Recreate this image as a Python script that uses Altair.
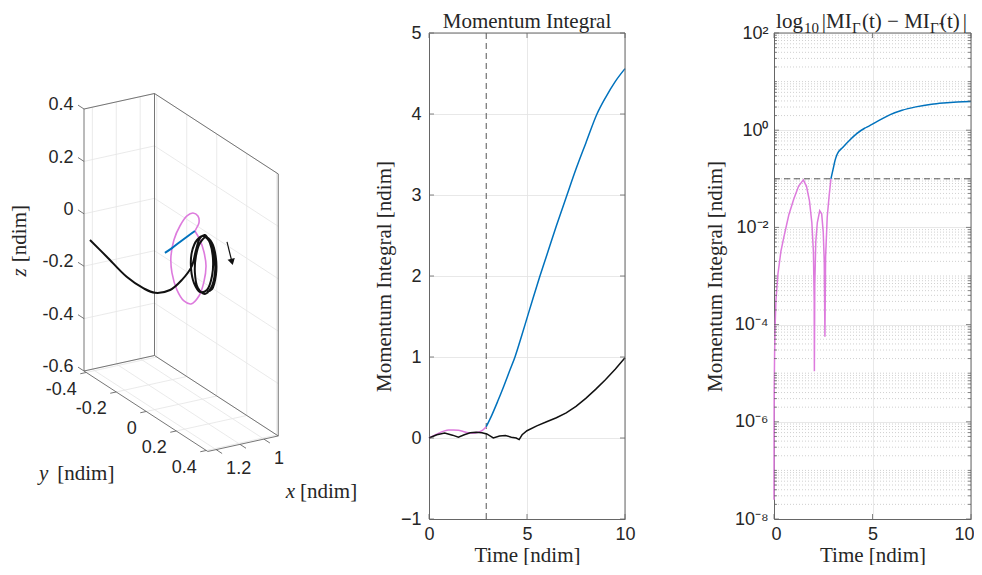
import altair as alt
import pandas as pd

# ============ values ============
# ---- middle panel: momentum integral vs time ----
MI_PINK_T = [0.0, 0.25, 0.5, 0.75, 1.0, 1.25, 1.5, 1.75, 2.0, 2.25, 2.5, 2.7, 2.92]
MI_PINK = [0.0, 0.03, 0.06, 0.085, 0.1, 0.1, 0.095, 0.08, 0.065, 0.06, 0.07, 0.09, 0.14]
MI_BLUE_T = [2.92, 3.2, 3.5, 3.8, 4.1, 4.4, 4.7, 5.0, 5.3, 5.66, 6.0, 6.5, 7.04, 7.5, 8.0,
             8.57, 9.0, 9.5, 10.0]
MI_BLUE = [0.14, 0.28, 0.45, 0.63, 0.82, 1.01, 1.24, 1.48, 1.72, 2.0, 2.25, 2.62, 3.0, 3.32,
           3.64, 4.0, 4.2, 4.4, 4.56]
MI_BLACK_T = [0.0, 0.4, 0.8, 1.2, 1.5, 1.8, 2.1, 2.4, 2.7, 2.95, 3.28, 3.6, 3.9, 4.2, 4.45,
              4.6, 4.75, 5.0, 5.5, 6.0, 6.5, 7.0, 7.5, 8.0, 8.5, 9.0, 9.5, 10.0]
MI_BLACK = [0.0, 0.04, 0.06, 0.035, 0.01, 0.04, 0.065, 0.07, 0.065, 0.05, 0.0, 0.025, 0.03,
            0.01, 0.0, -0.02, 0.04, 0.09, 0.15, 0.2, 0.25, 0.31, 0.39, 0.49, 0.6, 0.72,
            0.85, 0.99]
T_SWITCH = 2.92

# ---- right panel: |MI_G(t) - MI_G~(t)| ----
DIFF_PINK_T = [0.0, 0.005, 0.01, 0.03, 0.06, 0.1, 0.2, 0.35, 0.5, 0.75, 1.0, 1.25, 1.49,
               1.65, 1.8, 1.92, 2.0, 2.04, 2.05, 2.07, 2.12, 2.2, 2.32, 2.42, 2.5, 2.55,
               2.585, 2.62, 2.7, 2.8, 2.89]
DIFF_PINK = [2.5e-8, 1e-6, 4e-6, 2.5e-5, 1e-4, 3.2e-4, 1.1e-3, 3.2e-3, 6.3e-3, 1.8e-2,
             3.8e-2, 7.1e-2, 0.095, 0.07, 0.035, 0.0126, 3.2e-3, 3.2e-4, 1.1e-5, 6.3e-4,
             5e-3, 0.0126, 0.022, 0.019, 8e-3, 2e-3, 5.6e-5, 2.5e-3, 0.016, 0.045, 0.1]
DIFF_BLUE_T = [2.89, 3.0, 3.1, 3.2, 3.5, 3.85, 4.2, 4.6, 4.8, 5.2, 5.9, 6.5, 7.2, 8.0, 8.6,
               9.3, 10.0]
DIFF_BLUE = [0.1, 0.158, 0.24, 0.316, 0.447, 0.631, 0.851, 1.096, 1.2, 1.48, 2.09, 2.57,
             3.02, 3.43, 3.63, 3.8, 3.89]
DIFF_THRESHOLD = 0.1
LOG_MAJOR_EXP = [-8, -6, -4, -2, 0, 2]
LOG_DECADES = [-8, -7, -6, -5, -4, -3, -2, -1, 0, 1]
LOG_MULTS = [1, 2, 3, 4, 5, 6, 7, 8, 9]

# title of the right panel, set as pieces (main text and subscripts)
TITLE3_TEXT = ["log", "10", "|MI", "Γ", "(t) − MI", "Γ̃", "(t)", "|"]
TITLE3_SIZE = [21, 15, 21, 15, 21, 15, 21, 21]
TITLE3_CENTER = [15.5, 37.4, 62.8, 82.4, 121.9, 160.4, 175.9, 190.9]
TITLE3_BASE = [-5, 0, -5, 0, -5, 0, -5, -5]

# ---- left panel: 3-D trajectories [x, y, z] in ndim ----
X_LIM = [0.94, 1.235]
Y_LIM = [-0.415, 0.41]
Z_LIM = [-0.6, 0.4]
X_TICKS = [1.0, 1.1, 1.2]
X_TICK_LABELS = ["1", "", "1.2"]
Y_TICKS = [-0.4, -0.2, 0.0, 0.2, 0.4]
Y_TICK_LABELS = ["-0.4", "-0.2", "0", "0.2", "0.4"]
Z_TICKS = [-0.6, -0.4, -0.2, 0.0, 0.2, 0.4]
Z_TICK_LABELS = ["-0.6", "-0.4", "-0.2", "0", "0.2", "0.4"]

PINK3_X = 1.0
PINK3_Y = [-0.050, -0.016, 0.010, 0.024, 0.010, -0.023, -0.076, -0.123, -0.170, -0.203,
           -0.210, -0.190, -0.150, -0.103, -0.063, -0.030, -0.023, -0.043, -0.050]
PINK3_Z = [0.023, 0.001, -0.034, -0.083, -0.149, -0.215, -0.265, -0.271, -0.246, -0.194,
           -0.135, -0.063, 0.005, 0.061, 0.087, 0.088, 0.064, 0.033, 0.023]
BLUE3_X = 1.0
BLUE3_Y = [-0.050, -0.096, -0.150, -0.203, -0.250]
BLUE3_Z = [0.023, -0.013, -0.056, -0.099, -0.135]
BLACK3_X = [1.22, 1.19, 1.15, 1.11, 1.08, 1.05, 1.02, 1.0, 1.0, 1.0, 1.0, 1.0, 1.0, 1.0,
            1.0, 1.0, 1.0, 1.0, 1.0, 1.0, 1.0, 1.0, 1.0, 1.0, 1.0, 1.0, 1.0, 1.0, 1.0, 1.0,
            1.0, 1.0, 1.0, 1.0, 1.0, 1.0]
BLACK3_Y = [-0.399, -0.335, -0.266, -0.219, -0.188, -0.136, -0.106, -0.072,
            -0.043, -0.016, 0.017, 0.050, 0.070, 0.064, 0.030, -0.016, -0.056, -0.076,
            -0.070, -0.036, 0.004, 0.044, 0.077, 0.084, 0.057, 0.017, -0.030, -0.050,
            -0.043, -0.016, 0.024, 0.064, 0.090, 0.090, 0.064, 0.030]
BLACK3_Z = [-0.097, -0.143, -0.202, -0.236, -0.248, -0.224, -0.181, -0.121,
            -0.047, 0.009, 0.033, 0.015, -0.035, -0.106, -0.172, -0.197, -0.178, -0.128,
            -0.064, -0.006, 0.024, 0.020, -0.021, -0.084, -0.155, -0.192, -0.187, -0.137,
            -0.070, -0.010, 0.028, 0.020, -0.028, -0.093, -0.156, -0.180]
ARROW3 = {"x": [1.0, 1.0], "y": [0.164, 0.197], "z": [0.061, -0.003]}

# ============ styling / layout ============
SANS = "Liberation Sans"
SERIF = "Liberation Serif"
TXT = "#262626"
FRAME = "#666666"
GRID = "#e2e2e2"
GRID3 = "#e4e4e4"
C_PINK = "#dd7bdd"
C_BLUE = "#0072bd"
C_BLACK = "#111111"

H = 486
W1, W2, W3 = 272, 196, 197
SPACING = 149
PAD_TOP = 3
PAGE_X0, PAGE_Y0 = 8, 33

# camera of the 3-D view (page pixels)
P0 = (84, 371)          # corner (x_max, y_min, z_min)
EX = (-239, 52.5)       # shift per unit x
EY = (150, 97.5)        # shift per unit y
EZ = (0, -262)          # shift per unit z


def proj(xf, yf, zf, k):
    return (f"{P0[k]} + ({xf} - ({X_LIM[1]})) * ({EX[k]}) + ({yf} - ({Y_LIM[0]})) * ({EY[k]})"
            f" + ({zf} - ({Z_LIM[0]})) * ({EZ[k]})")


SX = alt.X("sx:Q", scale=alt.Scale(domain=[PAGE_X0, PAGE_X0 + W1], nice=False, zero=False), axis=None)
SY = alt.Y("sy:Q", scale=alt.Scale(domain=[PAGE_Y0, PAGE_Y0 + H], nice=False, zero=False, reverse=True), axis=None)


def pts_chart(df):
    return alt.Chart(df).transform_calculate(
        sx=proj("datum.x", "datum.y", "datum.z", 0),
        sy=proj("datum.x", "datum.y", "datum.z", 1),
    )


def seg_chart(df):
    return alt.Chart(df).transform_calculate(
        sx=proj("datum.x1", "datum.y1", "datum.z1", 0),
        sy=proj("datum.x1", "datum.y1", "datum.z1", 1),
        sx2=proj("datum.x2", "datum.y2", "datum.z2", 0),
        sy2=proj("datum.x2", "datum.y2", "datum.z2", 1),
    )


xmin, xmax = X_LIM
ymin, ymax = Y_LIM
zmin, zmax = Z_LIM

grid_rows = []
for xt in X_TICKS:
    grid_rows.append((xt, ymin, zmin, xt, ymin, zmax))
    grid_rows.append((xt, ymin, zmin, xt, ymax, zmin))
for yt in Y_TICKS:
    grid_rows.append((xmin, yt, zmin, xmin, yt, zmax))
    grid_rows.append((xmax, yt, zmin, xmin, yt, zmin))
for zt in Z_TICKS:
    grid_rows.append((xmax, ymin, zt, xmin, ymin, zt))
    grid_rows.append((xmin, ymin, zt, xmin, ymax, zt))
COLS = ["x1", "y1", "z1", "x2", "y2", "z2"]
grid_df = pd.DataFrame(grid_rows, columns=COLS)

edge_rows = [
    (xmax, ymin, zmin, xmax, ymin, zmax),
    (xmin, ymin, zmin, xmin, ymin, zmax),
    (xmin, ymax, zmin, xmin, ymax, zmax),
    (xmax, ymin, zmax, xmin, ymin, zmax),
    (xmin, ymin, zmax, xmin, ymax, zmax),
    (xmax, ymin, zmin, xmin, ymin, zmin),
    (xmin, ymin, zmin, xmin, ymax, zmin),
    (xmax, ymin, zmin, xmax, ymax, zmin),
    (xmax, ymax, zmin, xmin, ymax, zmin),
]
for zt in Z_TICKS:
    edge_rows.append((xmax, ymin, zt, xmax, ymin - 0.04, zt))
for yt in Y_TICKS:
    edge_rows.append((xmax, yt, zmin, xmax + 0.025, yt, zmin))
for xt in X_TICKS:
    edge_rows.append((xt, ymax, zmin, xt, ymax + 0.04, zmin))
edge_df = pd.DataFrame(edge_rows, columns=COLS)

zlab = pd.DataFrame({"x": xmax, "y": ymin - 0.07, "z": Z_TICKS, "label": Z_TICK_LABELS})
ylab = pd.DataFrame({"x": xmax + 0.04, "y": Y_TICKS, "z": zmin, "label": Y_TICK_LABELS})
xlab = pd.DataFrame({"x": X_TICKS, "y": ymax + 0.06, "z": zmin, "label": X_TICK_LABELS})
xlab = xlab[xlab["label"] != ""]

pink3 = pd.DataFrame({"x": PINK3_X, "y": PINK3_Y, "z": PINK3_Z})
pink3["i"] = range(len(pink3))
blue3 = pd.DataFrame({"x": BLUE3_X, "y": BLUE3_Y, "z": BLUE3_Z})
blue3["i"] = range(len(blue3))
black3 = pd.DataFrame({"x": BLACK3_X, "y": BLACK3_Y, "z": BLACK3_Z})
black3["i"] = range(len(black3))
arrow = pd.DataFrame({"x1": [ARROW3["x"][0]], "y1": [ARROW3["y"][0]], "z1": [ARROW3["z"][0]],
                      "x2": [ARROW3["x"][1]], "y2": [ARROW3["y"][1]], "z2": [ARROW3["z"][1]]})
arrow_head = pd.DataFrame({"x": [ARROW3["x"][1]], "y": [ARROW3["y"][1]], "z": [ARROW3["z"][1]]})

title_anchor_z = pd.DataFrame({"x": [xmax], "y": [ymin], "z": [-0.2]})
title_anchor_y = pd.DataFrame({"x": [xmax], "y": [0.0], "z": [zmin]})
title_anchor_x = pd.DataFrame({"x": [(xmin + xmax) / 2], "y": [ymax], "z": [zmin]})

seg_enc = dict(x=SX, y=SY, x2="sx2:Q", y2="sy2:Q")

l3 = [
    seg_chart(grid_df).mark_rule(color=GRID3, strokeWidth=0.8).encode(**seg_enc),
    seg_chart(edge_df).mark_rule(color=FRAME, strokeWidth=0.9).encode(**seg_enc),
    pts_chart(pink3).mark_line(color=C_PINK, strokeWidth=1.6, interpolate="catmull-rom").encode(x=SX, y=SY, order="i:Q"),
    pts_chart(blue3).mark_line(color=C_BLUE, strokeWidth=2, interpolate="catmull-rom").encode(x=SX, y=SY, order="i:Q"),
    pts_chart(black3).mark_line(color=C_BLACK, strokeWidth=2, interpolate="catmull-rom").encode(x=SX, y=SY, order="i:Q"),
    seg_chart(arrow).mark_rule(color=C_BLACK, strokeWidth=1.2).encode(**seg_enc),
    pts_chart(arrow_head).mark_point(shape="triangle-down", filled=True, size=55, angle=346,
                                     color=C_BLACK, opacity=1).encode(x=SX, y=SY),
    pts_chart(zlab).mark_text(font=SANS, fontSize=18, color=TXT, align="right", baseline="middle", dy=3).encode(x=SX, y=SY, text="label:N"),
    pts_chart(ylab).mark_text(font=SANS, fontSize=18, color=TXT, align="right", baseline="middle", dy=15).encode(x=SX, y=SY, text="label:N"),
    pts_chart(xlab).mark_text(font=SANS, fontSize=18, color=TXT, align="left", baseline="middle", dx=1, dy=14).encode(x=SX, y=SY, text="label:N"),
    pts_chart(title_anchor_z).mark_text(text="z", font=SERIF, fontStyle="italic", fontSize=21, color=TXT, angle=270, align="right", baseline="middle", dx=-2, dy=-64).encode(x=SX, y=SY),
    pts_chart(title_anchor_z).mark_text(text="[ndim]", font=SERIF, fontSize=21, color=TXT, angle=270, align="left", baseline="middle", dx=4, dy=-64).encode(x=SX, y=SY),
    pts_chart(title_anchor_y).mark_text(text="y", font=SERIF, fontStyle="italic", fontSize=21, color=TXT, align="right", baseline="middle", dx=-98, dy=63).encode(x=SX, y=SY),
    pts_chart(title_anchor_y).mark_text(text="[ndim]", font=SERIF, fontSize=21, color=TXT, align="left", baseline="middle", dx=-89, dy=63).encode(x=SX, y=SY),
    pts_chart(title_anchor_x).mark_text(text="x", font=SERIF, fontStyle="italic", fontSize=21, color=TXT, align="right", baseline="middle", dx=52, dy=48).encode(x=SX, y=SY),
    pts_chart(title_anchor_x).mark_text(text="[ndim]", font=SERIF, fontSize=21, color=TXT, align="left", baseline="middle", dx=57, dy=48).encode(x=SX, y=SY),
]
p1 = alt.layer(*l3).properties(width=W1, height=H)


# ---------------- helpers for the 2-D panels ----------------
def inner_ticks(values, channel, enc_field, side, length, w):
    df = pd.DataFrame({"v": values})
    if channel == "y":
        enc = dict(y=enc_field)
        if side == "left":
            enc.update(x=alt.value(0), x2=alt.value(length))
        else:
            enc.update(x=alt.value(w - length), x2=alt.value(w))
    else:
        enc = dict(x=enc_field)
        if side == "bottom":
            enc.update(y=alt.value(H - length), y2=alt.value(H))
        else:
            enc.update(y=alt.value(0), y2=alt.value(length))
    return alt.Chart(df).mark_rule(color=FRAME, strokeWidth=0.8).encode(**enc)


def frame_top_right(xf, yf, xmax_v, ymax_v):
    top = alt.Chart(pd.DataFrame({"v": [ymax_v]})).mark_rule(color=FRAME, strokeWidth=1).encode(y=yf)
    right = alt.Chart(pd.DataFrame({"v": [xmax_v]})).mark_rule(color=FRAME, strokeWidth=1).encode(x=xf)
    return [top, right]


def title_piece(text, size, center, base):
    return alt.Chart(pd.DataFrame({"k": [0]})).mark_text(
        text=text, font=SERIF, fontSize=size, color=TXT, align="center", baseline="alphabetic"
    ).encode(x=alt.value(center), y=alt.value(base))


AXIS_COMMON = dict(domain=True, domainColor=FRAME, domainWidth=1, ticks=False, grid=True)

T_TICKS = [0, 5, 10]
MI_TICKS = [-1, 0, 1, 2, 3, 4, 5]
xs2 = alt.Scale(domain=[0, 10], nice=False, zero=False)
ys2 = alt.Scale(domain=[-1, 5], nice=False, zero=False)

AX_T = alt.Axis(values=T_TICKS, title="Time [ndim]", labelFlush=False, labelPadding=6,
                titlePadding=1, **AXIS_COMMON)
# right panel: keep the last label inside the page
AX_T3 = alt.Axis(values=T_TICKS, title="Time [ndim]", labelFlush=True, labelFlushOffset=3,
                 labelPadding=6, titlePadding=1, **AXIS_COMMON)
AX_MI = alt.Axis(values=MI_TICKS, title="Momentum Integral [ndim]", labelPadding=8,
                 titlePadding=11, minExtent=24, maxExtent=24, **AXIS_COMMON)


def x2f(f="t"):
    return alt.X(f"{f}:Q", scale=xs2, axis=AX_T)


def y2f(f="v"):
    return alt.Y(f"{f}:Q", scale=ys2, axis=AX_MI)


mi_pink = pd.DataFrame({"t": MI_PINK_T, "v": MI_PINK})
mi_blue = pd.DataFrame({"t": MI_BLUE_T, "v": MI_BLUE})
mi_black = pd.DataFrame({"t": MI_BLACK_T, "v": MI_BLACK})

p2 = alt.layer(
    alt.Chart(pd.DataFrame({"t": [T_SWITCH]})).mark_rule(color="#555555", strokeDash=[6, 4], strokeWidth=1).encode(x=x2f()),
    alt.Chart(mi_pink).mark_line(color=C_PINK, strokeWidth=1.5, interpolate="monotone").encode(x=x2f(), y=y2f()),
    alt.Chart(mi_blue).mark_line(color=C_BLUE, strokeWidth=1.5, interpolate="monotone").encode(x=x2f(), y=y2f()),
    alt.Chart(mi_black).mark_line(color=C_BLACK, strokeWidth=1.5).encode(x=x2f(), y=y2f()),
    *frame_top_right(x2f("v"), y2f("v"), 10, 5),
    inner_ticks(MI_TICKS, "y", y2f("v"), "left", 5, W2),
    inner_ticks(MI_TICKS, "y", y2f("v"), "right", 5, W2),
    inner_ticks(T_TICKS, "x", x2f("v"), "bottom", 5, W2),
    inner_ticks(T_TICKS, "x", x2f("v"), "top", 5, W2),
    alt.Chart(pd.DataFrame({"k": [0]})).mark_text(
        text="Momentum Integral", font=SERIF, fontSize=21, color=TXT, align="center",
        baseline="alphabetic").encode(x=alt.value(W2 / 2), y=alt.value(-5)),
).properties(width=W2, height=H)

# ---------------- right panel (log) ----------------
LOG_MAJOR = [10.0 ** e for e in LOG_MAJOR_EXP]
LOG_MINOR = [m * 10.0 ** k for k in LOG_DECADES for m in LOG_MULTS
             if not (m == 1 and k in LOG_MAJOR_EXP)]
SUP = {2: "²", 0: "⁰", -2: "⁻²", -4: "⁻⁴", -6: "⁻⁶", -8: "⁻⁸"}
expo = "round(log(datum.value) / LN10)"
label_expr = "'10' + (" + " : ".join(f"{expo} == {e} ? '{s}'" for e, s in SUP.items()) + " : '')"

ys3 = alt.Scale(type="log", domain=[1e-8, 1e2], nice=False)
xs3 = alt.Scale(domain=[0, 10], nice=False, zero=False)
AX_LOG = alt.Axis(values=LOG_MAJOR, labelExpr=label_expr, title="Momentum Integral [ndim]",
                  labelPadding=6, titlePadding=9, minExtent=40, maxExtent=40, **AXIS_COMMON)


def x3f(f="t"):
    return alt.X(f"{f}:Q", scale=xs3, axis=AX_T3)


def y3f(f="v"):
    return alt.Y(f"{f}:Q", scale=ys3, axis=AX_LOG)


d_pink = pd.DataFrame({"t": DIFF_PINK_T, "v": DIFF_PINK})
d_blue = pd.DataFrame({"t": DIFF_BLUE_T, "v": DIFF_BLUE})
minor_df = pd.DataFrame({"v": LOG_MINOR})
thr_df = pd.DataFrame({"t": [0], "t2": [10], "v": [DIFF_THRESHOLD]})

p3 = alt.layer(
    alt.Chart(minor_df).mark_rule(color="#c4c4c4", strokeDash=[1, 2], strokeWidth=0.8).encode(y=y3f()),
    alt.Chart(d_pink).mark_line(color=C_PINK, strokeWidth=1.5).encode(x=x3f(), y=y3f()),
    alt.Chart(d_blue).mark_line(color=C_BLUE, strokeWidth=1.5, interpolate="monotone").encode(x=x3f(), y=y3f()),
    alt.Chart(thr_df).mark_rule(color="#555555", strokeDash=[6, 4], strokeWidth=1).encode(
        x=x3f(), x2="t2:Q", y=y3f()),
    *frame_top_right(x3f("v"), y3f("v"), 10, 100),
    inner_ticks(LOG_MAJOR, "y", y3f("v"), "left", 5, W3),
    inner_ticks(LOG_MAJOR, "y", y3f("v"), "right", 5, W3),
    inner_ticks(LOG_MINOR, "y", y3f("v"), "left", 3, W3),
    inner_ticks(LOG_MINOR, "y", y3f("v"), "right", 3, W3),
    inner_ticks(T_TICKS, "x", x3f("v"), "bottom", 5, W3),
    inner_ticks(T_TICKS, "x", x3f("v"), "top", 5, W3),
    *[title_piece(t, s, c, b) for t, s, c, b in zip(TITLE3_TEXT, TITLE3_SIZE, TITLE3_CENTER, TITLE3_BASE)],
).properties(width=W3, height=H)

chart = alt.hconcat(p1, p2, p3, spacing=SPACING, bounds="flush").properties(
    padding={"left": 0, "top": PAD_TOP, "right": 0, "bottom": 0}
).configure_view(
    strokeWidth=0
).configure_axis(
    labelFont=SANS, labelFontSize=18, labelColor=TXT, titleFont=SERIF, titleFontSize=21,
    titleFontWeight="normal", titleColor=TXT, gridColor=GRID, gridWidth=0.8
)

chart.save("out.html", embed_options={"renderer": "svg", "actions": False})
